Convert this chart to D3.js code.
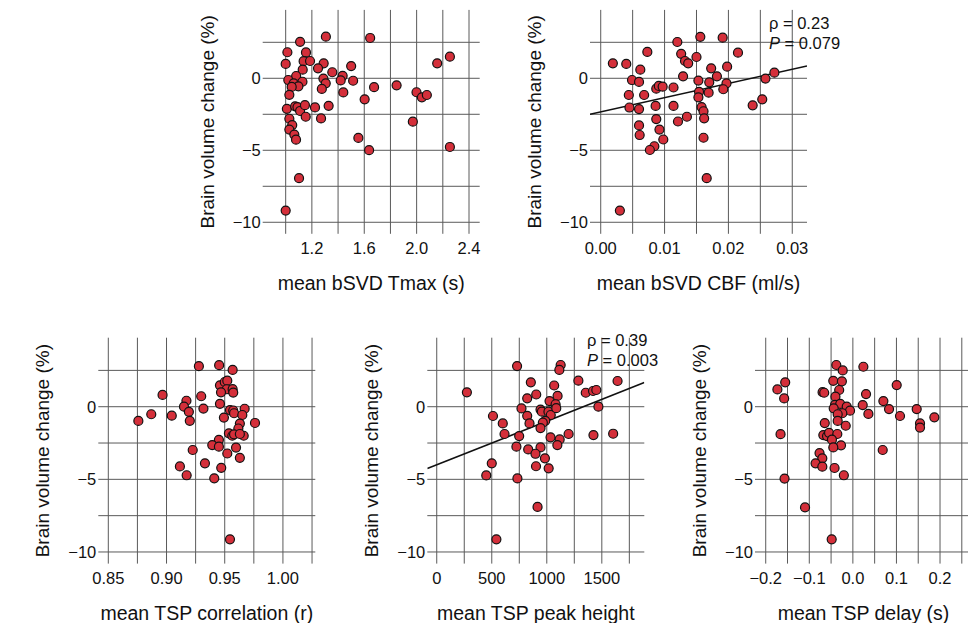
<!DOCTYPE html>
<html>
<head>
<meta charset="utf-8">
<script src="https://cdn.jsdelivr.net/npm/d3@7"></script>
<style>
  html, body { margin: 0; padding: 0; background: #ffffff; }
  svg { display: block; font-family: "Liberation Sans", Arial, sans-serif; }
</style>
</head>
<body>
<svg id="chart" width="968" height="623"></svg>
<script>
// Brain volume change (%) against perfusion / TSP measures, one scatter per measure.

const yGridTicks = [2.5, 0, -2.5, -5, -7.5, -10];
const yLabelTicks = [0, -5, -10];
const yTitle = "Brain volume change (%)";

// mean bSVD Tmax (s) vs brain volume change
const tmaxPoints = [
  [1.00,-9.19],[1.013,1.81],[1.00,1.00],[1.11,2.53],[1.307,2.89],[1.645,2.80],[2.254,1.50],[2.157,1.04],
  [1.155,1.80],[1.137,1.19],[1.186,1.20],[1.13,0.60],[1.29,1.04],[1.247,0.69],[1.50,0.85],[1.356,0.42],
  [1.435,0.17],[1.42,-0.15],[1.515,-0.17],[1.288,-0.02],[1.306,-0.35],[1.08,0.16],[1.02,-0.12],[1.128,-0.24],
  [1.061,-0.35],[1.097,-0.56],[1.046,-0.60],[1.028,-1.15],[1.276,-0.74],[1.675,-0.62],[1.847,-0.49],[1.44,-0.98],
  [1.603,-1.46],[1.999,-0.97],[2.04,-1.32],[2.078,-1.16],[1.009,-2.12],[1.072,-1.95],[1.09,-2.00],[1.11,-2.27],
  [1.147,-1.87],[1.153,-2.67],[1.224,-2.02],[1.328,-1.91],[1.27,-2.79],[1.028,-2.81],[1.05,-3.25],[1.028,-3.56],
  [1.066,-3.91],[1.079,-4.26],[1.555,-4.14],[1.637,-4.99],[1.971,-3.01],[2.254,-4.77],[1.102,-6.94]
];

// mean bSVD CBF (ml/s) vs brain volume change
const cbfPoints = [
  [0.0019,1.04],[0.0040,1.00],[0.0073,1.83],[0.0120,2.52],[0.0156,2.88],[0.0191,2.82],[0.0215,1.78],[0.0126,1.70],
  [0.0132,1.20],[0.0137,1.04],[0.0150,1.48],[0.0173,0.69],[0.0198,0.81],[0.0272,0.39],[0.0062,0.60],[0.0049,-0.12],
  [0.0060,-0.25],[0.0129,0.14],[0.0182,0.14],[0.0153,-0.16],[0.0170,-0.28],[0.0197,-0.35],[0.0192,-0.76],[0.0258,-0.02],
  [0.0087,-0.72],[0.0091,-0.53],[0.0097,-0.58],[0.0114,-0.64],[0.0044,-1.16],[0.0068,-1.16],[0.0154,-0.94],[0.0153,-1.32],
  [0.0169,-1.00],[0.0045,-2.03],[0.0060,-2.14],[0.0086,-1.92],[0.0114,-1.92],[0.0158,-2.00],[0.0161,-2.29],[0.0162,-2.78],
  [0.0087,-2.83],[0.0135,-2.67],[0.0121,-3.00],[0.0238,-1.88],[0.0253,-1.46],[0.0060,-3.27],[0.0061,-3.94],[0.0092,-3.56],
  [0.0098,-4.25],[0.0084,-4.72],[0.0077,-4.98],[0.0161,-4.13],[0.0166,-6.94],[0.0030,-9.19]
];

// mean TSP correlation (r) vs brain volume change
const corrPoints = [
  [0.8758,-0.98],[0.8869,-0.52],[0.8966,0.81],[0.9045,-0.62],[0.9171,0.41],[0.9150,0.00],[0.9192,-0.35],[0.9200,-0.97],
  [0.9298,0.72],[0.9317,-0.13],[0.9278,2.79],[0.9452,2.86],[0.9568,2.53],[0.9225,-2.98],[0.9115,-4.11],[0.9173,-4.72],
  [0.9330,-3.90],[0.9410,-4.93],[0.9470,-4.21],[0.9450,-2.28],[0.9393,-2.64],[0.9450,-2.75],[0.9522,-3.22],[0.9630,-3.52],
  [0.9597,-2.81],[0.9545,-9.13],[0.9459,1.47],[0.9500,1.70],[0.9522,1.79],[0.9517,1.20],[0.9468,0.99],[0.9568,1.21],
  [0.9573,0.97],[0.9459,0.20],[0.9545,-0.23],[0.9573,-0.26],[0.9580,-0.45],[0.9671,-0.14],[0.9651,-0.57],[0.9493,-0.75],
  [0.9760,-1.12],[0.9630,-1.16],[0.9617,-1.50],[0.9536,-1.83],[0.9565,-2.00],[0.9580,-1.90],[0.9663,-2.00],[0.9630,-1.88]
];

// mean TSP peak height vs brain volume change
const peakPoints = [
  [274,0.99],[730,2.80],[1126,2.87],[1114,2.53],[855,1.68],[1287,1.79],[1643,1.77],[1067,1.46],
  [904,0.84],[1098,0.74],[822,0.58],[1025,0.39],[1080,0.17],[1354,0.96],[1420,1.08],[1450,1.15],
  [1469,0.00],[770,-0.12],[943,-0.20],[955,-0.34],[1015,-0.34],[1036,-0.57],[1086,-0.10],[511,-0.64],
  [600,-1.15],[822,-0.63],[843,-1.15],[986,-0.97],[964,-1.10],[616,-1.88],[749,-2.02],[1198,-1.88],
  [1424,-1.95],[1603,-1.86],[943,-1.47],[1034,-2.11],[1117,-2.25],[1096,-2.64],[724,-2.75],[831,-2.94],
  [943,-2.80],[897,-3.24],[983,-3.55],[500,-3.90],[902,-4.10],[1017,-4.24],[450,-4.73],[733,-4.94],
  [916,-6.90],[542,-9.13]
];

// mean TSP delay (s) vs brain volume change
const delayPoints = [
  [-0.1732,1.19],[-0.1553,1.68],[-0.1577,0.57],[-0.1660,-1.89],[-0.1568,-4.95],[-0.1098,-6.93],[-0.0486,-9.13],[-0.0380,2.87],
  [-0.0233,2.50],[0.0241,2.75],[-0.0450,1.78],[-0.0252,1.75],[-0.0314,1.15],[-0.0695,1.00],[-0.0658,0.96],[-0.0400,0.69],
  [-0.0410,0.12],[-0.0290,0.19],[-0.0440,-0.11],[-0.0141,0.00],[-0.0065,-0.27],[-0.0242,-0.45],[-0.0348,-0.52],[0.0302,0.87],
  [0.0226,0.11],[0.0356,-0.50],[0.0700,0.39],[0.0830,-0.16],[0.1006,1.49],[0.1082,-0.64],[0.1465,-0.16],[0.1541,-1.15],
  [0.1541,-1.44],[0.1870,-0.73],[0.0685,-2.98],[-0.0164,-1.31],[-0.0348,-0.98],[-0.0645,-1.13],[-0.0678,-1.95],[-0.0593,-2.02],
  [-0.0547,-1.80],[-0.0357,-1.88],[-0.0480,-2.27],[-0.0272,-2.66],[-0.0449,-2.80],[-0.0765,-3.19],[-0.0701,-3.55],[-0.0856,-3.90],
  [-0.0701,-4.13],[-0.0420,-4.22],[-0.0207,-4.72]
];

// x grid / label ticks per measure
const tmaxGrid = [1.0, 1.2, 1.4, 1.6, 1.8, 2.0, 2.2, 2.4];
const tmaxLabels = [1.2, 1.6, 2.0, 2.4];
const cbfGrid = [0, 0.005, 0.01, 0.015, 0.02, 0.025, 0.03];
const cbfLabels = [0, 0.01, 0.02, 0.03];
const corrGrid = [0.85, 0.875, 0.9, 0.925, 0.95, 0.975, 1.0, 1.025];
const corrLabels = [0.85, 0.9, 0.95, 1.0];
const peakGrid = [0, 250, 500, 750, 1000, 1250, 1500, 1750];
const peakLabels = [0, 500, 1000, 1500];
const delayGrid = [-0.2, -0.15, -0.1, -0.05, 0, 0.05, 0.1, 0.15, 0.2, 0.25];
const delayLabels = [-0.2, -0.1, 0.0, 0.1, 0.2];

// Spearman statistics and regression lines (intercept, slope)
const cbfStats = { rho: "0.23", p: "0.079", fit: [-2.334, 98.7] };
const peakStats = { rho: "0.39", p: "0.003", fit: [-4.00, 0.00300] };

const yDomain = [-10.8, 4.75];
const PANEL_W = 217;

const panels = [
  { points: tmaxPoints, grid: tmaxGrid, labels: tmaxLabels, fmt: d3.format(".1f"),
    xDomain: [0.8245, 2.4816], left: 262.7, top: 9.9, bottom: 233.8,
    title: "mean bSVD Tmax (s)" },
  { points: cbfPoints, grid: cbfGrid, labels: cbfLabels, fmt: d3.format(".2f"),
    xDomain: [-0.00168, 0.03231], left: 590, top: 9.9, bottom: 233.8,
    title: "mean bSVD CBF (ml/s)", stats: cbfStats, statsPos: [769, 29, 49] },
  { points: corrPoints, grid: corrGrid, labels: corrLabels, fmt: d3.format(".2f"),
    xDomain: [0.8414, 1.0278], left: 98.3, top: 337.7, bottom: 563.6,
    title: "mean TSP correlation (r)" },
  { points: peakPoints, grid: peakGrid, labels: peakLabels, fmt: d3.format("d"),
    xDomain: [-85.8, 1886], left: 427.3, top: 337.7, bottom: 563.6,
    title: "mean TSP peak height", stats: peakStats, statsPos: [587, 346, 366] },
  { points: delayPoints, grid: delayGrid, labels: delayLabels, fmt: d3.format(".1f"),
    xDomain: [-0.2246, 0.2734], left: 755, top: 337.7, bottom: 563.6,
    title: "mean TSP delay (s)" }
];

const svg = d3.select("#chart");
const gridColor = "#5a5a5a";
const dotFill = "#d42f3a";
const textColor = "#111";

panels.forEach((p, i) => {
  const x = d3.scaleLinear().domain(p.xDomain).range([p.left, p.left + PANEL_W]);
  const y = d3.scaleLinear().domain(yDomain).range([p.bottom, p.top]);
  const g = svg.append("g").attr("class", "panel-" + i);

  const clipId = "clip-" + i;
  svg.append("clipPath").attr("id", clipId).append("rect")
    .attr("x", p.left).attr("y", p.top).attr("width", PANEL_W).attr("height", p.bottom - p.top);

  // grid lines
  g.selectAll("line.vgrid").data(p.grid).join("line")
    .attr("class", "vgrid")
    .attr("x1", d => x(d)).attr("x2", d => x(d))
    .attr("y1", p.top).attr("y2", p.bottom)
    .attr("stroke", gridColor).attr("stroke-width", 1);
  g.selectAll("line.hgrid").data(yGridTicks).join("line")
    .attr("class", "hgrid")
    .attr("x1", p.left).attr("x2", p.left + PANEL_W)
    .attr("y1", d => y(d)).attr("y2", d => y(d))
    .attr("stroke", gridColor).attr("stroke-width", 1);

  // tick labels
  g.selectAll("text.xlab").data(p.labels).join("text")
    .attr("class", "xlab")
    .attr("x", d => x(d)).attr("y", p.bottom + 20)
    .attr("text-anchor", "middle")
    .attr("font-size", 16.5).attr("fill", textColor)
    .text(d => p.fmt(d));
  g.selectAll("text.ylab").data(yLabelTicks).join("text")
    .attr("class", "ylab")
    .attr("x", p.left - 2).attr("y", d => y(d))
    .attr("dy", "0.36em")
    .attr("text-anchor", "end")
    .attr("font-size", 16.5).attr("fill", textColor)
    .text(d => d3.format("d")(d));

  // axis titles
  g.append("text")
    .attr("x", p.left + PANEL_W / 2).attr("y", p.bottom + 49)
    .attr("dy", "0.36em")
    .attr("text-anchor", "middle")
    .attr("font-size", 19.5).attr("fill", textColor)
    .text(p.title);
  g.append("text")
    .attr("transform", `translate(${p.left - 56},${(p.top + p.bottom) / 2}) rotate(-90)`)
    .attr("dy", "0.36em")
    .attr("text-anchor", "middle")
    .attr("font-size", 19).attr("fill", textColor)
    .text(yTitle);

  // regression line
  if (p.stats) {
    const [b0, b1] = p.stats.fit;
    g.append("line")
      .attr("clip-path", `url(#${clipId})`)
      .attr("x1", x(p.xDomain[0])).attr("y1", y(b0 + b1 * p.xDomain[0]))
      .attr("x2", x(p.xDomain[1])).attr("y2", y(b0 + b1 * p.xDomain[1]))
      .attr("stroke", textColor).attr("stroke-width", 1.6);
  }

  // points
  g.selectAll("circle").data(p.points).join("circle")
    .attr("cx", d => x(d[0])).attr("cy", d => y(d[1]))
    .attr("r", 4.5)
    .attr("fill", dotFill)
    .attr("stroke", textColor).attr("stroke-width", 1.2);

  // statistics annotation
  if (p.stats) {
    const [sx, y1, y2] = p.statsPos;
    g.append("text").attr("x", sx).attr("y", y1)
      .attr("font-size", 16.5).attr("fill", textColor)
      .text("ρ = " + p.stats.rho);
    const t = g.append("text").attr("x", sx).attr("y", y2)
      .attr("font-size", 16.5).attr("fill", textColor);
    t.append("tspan").attr("font-style", "italic").text("P");
    t.append("tspan").text(" = " + p.stats.p);
  }
});
</script>
</body>
</html>
